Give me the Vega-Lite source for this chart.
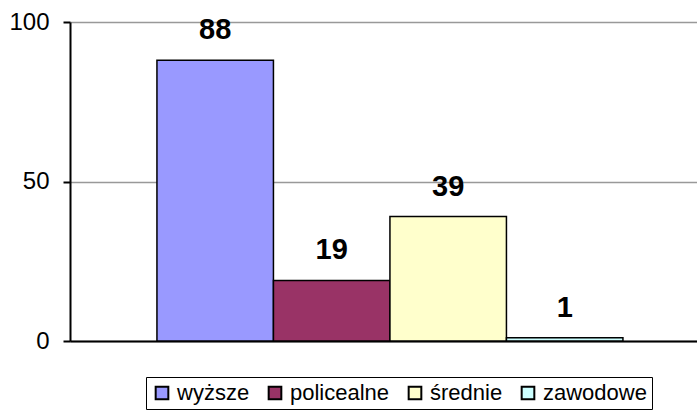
{
  "$schema": "https://vega.github.io/schema/vega-lite/v6.json",
  "width": 627,
  "height": 319,
  "autosize": {"type": "none"},
  "padding": {"left": 70, "top": 22, "right": 0, "bottom": 70},
  "config": {
    "view": {"stroke": null},
    "font": "Liberation Sans",
    "axis": {"labelFont": "Liberation Sans", "labelColor": "black"},
    "legend": {"labelFont": "Liberation Sans"}
  },
  "data": {
    "values": [
      {"kategoria": "wyższe", "wartosc": 88},
      {"kategoria": "policealne", "wartosc": 19},
      {"kategoria": "średnie", "wartosc": 39},
      {"kategoria": "zawodowe", "wartosc": 1}
    ]
  },
  "encoding": {
    "x": {
      "field": "kategoria",
      "type": "nominal",
      "sort": null,
      "scale": {"paddingInner": 0, "paddingOuter": 0.691, "align": 0.54},
      "axis": {"title": null, "labels": false, "ticks": false, "domainColor": "black", "domainWidth": 2, "grid": false}
    },
    "y": {
      "field": "wartosc",
      "type": "quantitative",
      "scale": {"domain": [0, 100], "nice": false},
      "axis": {
        "title": null,
        "values": [0, 50, 100],
        "labelFontSize": 24,
        "labelPadding": 14,
        "tickSize": 7,
        "tickColor": "black",
        "tickWidth": 2,
        "domainColor": "black",
        "domainWidth": 2,
        "gridColor": "#999999",
        "gridWidth": 1.5
      }
    }
  },
  "layer": [
    {
      "mark": {"type": "bar", "stroke": "black", "strokeWidth": 1.5},
      "encoding": {
        "color": {
          "field": "kategoria",
          "type": "nominal",
          "sort": null,
          "scale": {
            "domain": ["wyższe", "policealne", "średnie", "zawodowe"],
            "range": ["#9999FF", "#993366", "#FFFFCC", "#CCFFFF"]
          },
          "legend": {
            "title": null,
            "orient": "none",
            "direction": "horizontal",
            "legendX": 76,
            "legendY": 355,
            "symbolType": "square",
            "symbolSize": 160,
            "symbolStrokeColor": "black",
            "symbolStrokeWidth": 2,
            "symbolOpacity": 1,
            "labelFontSize": 22,
            "labelColor": "black",
            "labelOffset": 4,
            "columnPadding": 14,
            "strokeColor": "black",
            "padding": 5
          }
        }
      }
    },
    {
      "mark": {"type": "text", "fontSize": 29, "fontWeight": "bold", "dy": -21, "baseline": "alphabetic", "color": "black"},
      "encoding": {"text": {"field": "wartosc", "type": "quantitative"}}
    }
  ]
}
